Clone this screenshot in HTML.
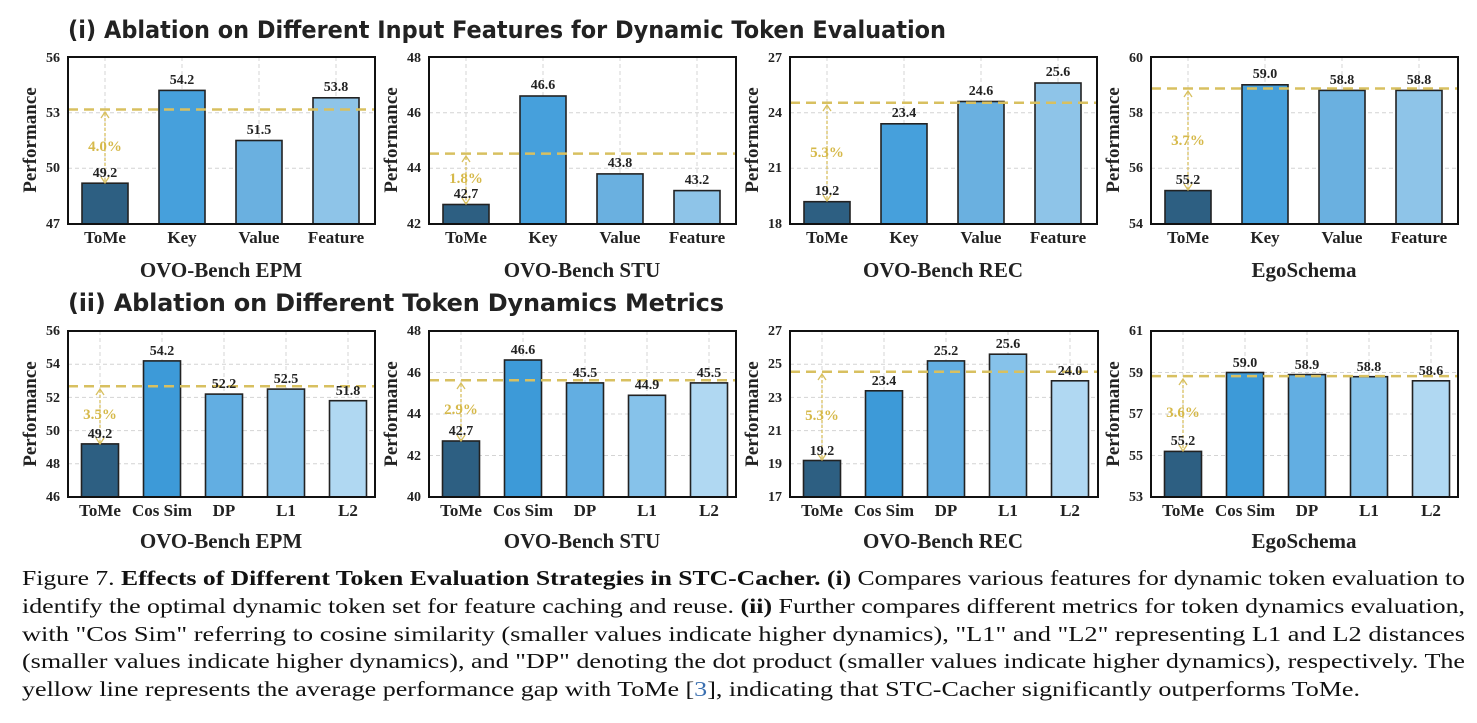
<!DOCTYPE html>
<html><head><meta charset="utf-8"><style>
body{margin:0;background:#fff;width:1477px;height:723px;overflow:hidden;position:relative}
svg{position:absolute;left:0;top:0}
.cap{font:21px "Liberation Serif",serif;fill:#111}
.tk{font:bold 14px "Liberation Serif",serif;fill:#222;text-anchor:end}
.xl{font:bold 17px "Liberation Serif",serif;fill:#222;text-anchor:middle}
.st{font:bold 21px "Liberation Serif",serif;fill:#222;text-anchor:middle}
.vl{font:bold 14px "Liberation Serif",serif;fill:#222;text-anchor:middle}
.pc{font:bold 15px "Liberation Serif",serif;fill:#d6b94a;text-anchor:middle}
.yl{font:bold 19px "Liberation Serif",serif;fill:#222;text-anchor:middle}
.g{stroke:#d4d4d4;stroke-width:1;stroke-dasharray:4 3}
.b{stroke:#222;stroke-width:1.6}
.av{stroke:#d8c060;stroke-width:2.5;stroke-dasharray:10 6}
.ar{stroke:#d8c060;stroke-width:1.3;stroke-dasharray:3 2;fill:none}
.ah{stroke:#d8c060;stroke-width:1.3;fill:none}
.fr{fill:none;stroke:#111;stroke-width:2}
</style></head><body>
<svg width="1477" height="723" viewBox="0 0 1477 723">
<text x="68" y="38" font-family="DejaVu Sans" font-weight="bold" font-size="24" fill="#222" textLength="878" lengthAdjust="spacingAndGlyphs">(i) Ablation on Different Input Features for Dynamic Token Evaluation</text>
<text x="68" y="311" font-family="DejaVu Sans" font-weight="bold" font-size="24" fill="#222" textLength="656" lengthAdjust="spacing">(ii) Ablation on Different Token Dynamics Metrics</text>

<g transform="translate(68,0)">
<line class="g" x1="0" x2="307" y1="168.3" y2="168.3"/><line class="g" x1="0" x2="307" y1="112.7" y2="112.7"/>
<line class="g" x1="37" x2="37" y1="57" y2="224"/><line class="g" x1="114" x2="114" y1="57" y2="224"/><line class="g" x1="191" x2="191" y1="57" y2="224"/><line class="g" x1="268" x2="268" y1="57" y2="224"/>
<rect class="b" x="14" y="183.2" width="46" height="40.8" fill="#2d5f82"/>
<rect class="b" x="91" y="90.4" width="46" height="133.6" fill="#46a0dc"/>
<rect class="b" x="168" y="140.5" width="46" height="83.5" fill="#6ab0e0"/>
<rect class="b" x="245" y="97.8" width="46" height="126.2" fill="#8ec4e8"/>
<line class="av" x1="0" x2="307" y1="109.5" y2="109.5"/>
<line class="ar" x1="37" x2="37" y1="113" y2="182"/><path class="ah" d="M33,118 L37,112 L41,118 M33,177 L37,183 L41,177"/>
<text class="pc" x="37" y="151">4.0%</text>
<text class="vl" x="37" y="177">49.2</text><text class="vl" x="114" y="84">54.2</text><text class="vl" x="191" y="134">51.5</text><text class="vl" x="268" y="91">53.8</text>
<rect class="fr" x="0" y="57" width="307" height="167"/>
<text class="tk" x="-8" y="228">47</text><text class="tk" x="-8" y="172">50</text><text class="tk" x="-8" y="117">53</text><text class="tk" x="-8" y="62">56</text>
<text class="yl" transform="translate(-32,140) rotate(-90)">Performance</text>
<text class="xl" x="37" y="243">ToMe</text><text class="xl" x="114" y="243">Key</text><text class="xl" x="191" y="243">Value</text><text class="xl" x="268" y="243">Feature</text>
<text class="st" x="153" y="277">OVO-Bench EPM</text>
</g>

<g transform="translate(429,0)">
<line class="g" x1="0" x2="307" y1="168.3" y2="168.3"/><line class="g" x1="0" x2="307" y1="112.7" y2="112.7"/>
<line class="g" x1="37" x2="37" y1="57" y2="224"/><line class="g" x1="114" x2="114" y1="57" y2="224"/><line class="g" x1="191" x2="191" y1="57" y2="224"/><line class="g" x1="268" x2="268" y1="57" y2="224"/>
<rect class="b" x="14" y="204.5" width="46" height="19.5" fill="#2d5f82"/>
<rect class="b" x="91" y="96" width="46" height="128" fill="#46a0dc"/>
<rect class="b" x="168" y="173.9" width="46" height="50.1" fill="#6ab0e0"/>
<rect class="b" x="245" y="190.6" width="46" height="33.4" fill="#8ec4e8"/>
<line class="av" x1="0" x2="307" y1="153.6" y2="153.6"/>
<line class="ar" x1="37" x2="37" y1="157" y2="203"/><path class="ah" d="M33,162 L37,156 L41,162 M33,198 L37,204 L41,198"/>
<text class="pc" x="37" y="183">1.8%</text>
<text class="vl" x="37" y="198">42.7</text><text class="vl" x="114" y="89">46.6</text><text class="vl" x="191" y="167">43.8</text><text class="vl" x="268" y="184">43.2</text>
<rect class="fr" x="0" y="57" width="307" height="167"/>
<text class="tk" x="-8" y="228">42</text><text class="tk" x="-8" y="172">44</text><text class="tk" x="-8" y="117">46</text><text class="tk" x="-8" y="62">48</text>
<text class="yl" transform="translate(-32,140) rotate(-90)">Performance</text>
<text class="xl" x="37" y="243">ToMe</text><text class="xl" x="114" y="243">Key</text><text class="xl" x="191" y="243">Value</text><text class="xl" x="268" y="243">Feature</text>
<text class="st" x="153" y="277">OVO-Bench STU</text>
</g>

<g transform="translate(790,0)">
<line class="g" x1="0" x2="307" y1="168.3" y2="168.3"/><line class="g" x1="0" x2="307" y1="112.7" y2="112.7"/>
<line class="g" x1="37" x2="37" y1="57" y2="224"/><line class="g" x1="114" x2="114" y1="57" y2="224"/><line class="g" x1="191" x2="191" y1="57" y2="224"/><line class="g" x1="268" x2="268" y1="57" y2="224"/>
<rect class="b" x="14" y="201.7" width="46" height="22.3" fill="#2d5f82"/>
<rect class="b" x="91" y="123.8" width="46" height="100.2" fill="#46a0dc"/>
<rect class="b" x="168" y="101.5" width="46" height="122.5" fill="#6ab0e0"/>
<rect class="b" x="245" y="83" width="46" height="141" fill="#8ec4e8"/>
<line class="av" x1="0" x2="307" y1="102.8" y2="102.8"/>
<line class="ar" x1="37" x2="37" y1="106" y2="200"/><path class="ah" d="M33,111 L37,105 L41,111 M33,195 L37,201 L41,195"/>
<text class="pc" x="37" y="157">5.3%</text>
<text class="vl" x="37" y="195">19.2</text><text class="vl" x="114" y="117">23.4</text><text class="vl" x="191" y="95">24.6</text><text class="vl" x="268" y="76">25.6</text>
<rect class="fr" x="0" y="57" width="307" height="167"/>
<text class="tk" x="-8" y="228">18</text><text class="tk" x="-8" y="172">21</text><text class="tk" x="-8" y="117">24</text><text class="tk" x="-8" y="62">27</text>
<text class="yl" transform="translate(-32,140) rotate(-90)">Performance</text>
<text class="xl" x="37" y="243">ToMe</text><text class="xl" x="114" y="243">Key</text><text class="xl" x="191" y="243">Value</text><text class="xl" x="268" y="243">Feature</text>
<text class="st" x="153" y="277">OVO-Bench REC</text>
</g>

<g transform="translate(1151,0)">
<line class="g" x1="0" x2="307" y1="168.3" y2="168.3"/><line class="g" x1="0" x2="307" y1="112.7" y2="112.7"/>
<line class="g" x1="37" x2="37" y1="57" y2="224"/><line class="g" x1="114" x2="114" y1="57" y2="224"/><line class="g" x1="191" x2="191" y1="57" y2="224"/><line class="g" x1="268" x2="268" y1="57" y2="224"/>
<rect class="b" x="14" y="190.6" width="46" height="33.4" fill="#2d5f82"/>
<rect class="b" x="91" y="84.8" width="46" height="139.2" fill="#46a0dc"/>
<rect class="b" x="168" y="90.4" width="46" height="133.6" fill="#6ab0e0"/>
<rect class="b" x="245" y="90.4" width="46" height="133.6" fill="#8ec4e8"/>
<line class="av" x1="0" x2="307" y1="88.5" y2="88.5"/>
<line class="ar" x1="37" x2="37" y1="92" y2="189"/><path class="ah" d="M33,97 L37,91 L41,97 M33,184 L37,190 L41,184"/>
<text class="pc" x="37" y="145">3.7%</text>
<text class="vl" x="37" y="184">55.2</text><text class="vl" x="114" y="78">59.0</text><text class="vl" x="191" y="84">58.8</text><text class="vl" x="268" y="84">58.8</text>
<rect class="fr" x="0" y="57" width="307" height="167"/>
<text class="tk" x="-8" y="228">54</text><text class="tk" x="-8" y="172">56</text><text class="tk" x="-8" y="117">58</text><text class="tk" x="-8" y="62">60</text>
<text class="yl" transform="translate(-32,140) rotate(-90)">Performance</text>
<text class="xl" x="37" y="243">ToMe</text><text class="xl" x="114" y="243">Key</text><text class="xl" x="191" y="243">Value</text><text class="xl" x="268" y="243">Feature</text>
<text class="st" x="153" y="277">EgoSchema</text>
</g>

<g transform="translate(68,0)">
<line class="g" x1="0" x2="307" y1="463.8" y2="463.8"/><line class="g" x1="0" x2="307" y1="430.6" y2="430.6"/><line class="g" x1="0" x2="307" y1="397.4" y2="397.4"/><line class="g" x1="0" x2="307" y1="364.2" y2="364.2"/>
<line class="g" x1="32" x2="32" y1="331" y2="497"/><line class="g" x1="94" x2="94" y1="331" y2="497"/><line class="g" x1="156" x2="156" y1="331" y2="497"/><line class="g" x1="218" x2="218" y1="331" y2="497"/><line class="g" x1="280" x2="280" y1="331" y2="497"/>
<rect class="b" x="13.5" y="443.9" width="37" height="53.1" fill="#2d5f82"/>
<rect class="b" x="75.5" y="360.9" width="37" height="136.1" fill="#3d9ad8"/>
<rect class="b" x="137.5" y="394.1" width="37" height="102.9" fill="#62aee2"/>
<rect class="b" x="199.5" y="389.1" width="37" height="107.9" fill="#86c2ea"/>
<rect class="b" x="261.5" y="400.7" width="37" height="96.3" fill="#b0d8f2"/>
<line class="av" x1="0" x2="307" y1="386.2" y2="386.2"/>
<line class="ar" x1="32" x2="32" y1="390" y2="443"/><path class="ah" d="M28,395 L32,389 L36,395 M28,438 L32,444 L36,438"/>
<text class="pc" x="32" y="419">3.5%</text>
<text class="vl" x="32" y="438">49.2</text><text class="vl" x="94" y="355">54.2</text><text class="vl" x="156" y="388">52.2</text><text class="vl" x="218" y="383">52.5</text><text class="vl" x="280" y="395">51.8</text>
<rect class="fr" x="0" y="331" width="307" height="166"/>
<text class="tk" x="-8" y="501">46</text><text class="tk" x="-8" y="468">48</text><text class="tk" x="-8" y="435">50</text><text class="tk" x="-8" y="402">52</text><text class="tk" x="-8" y="368">54</text><text class="tk" x="-8" y="335">56</text>
<text class="yl" transform="translate(-32,414) rotate(-90)">Performance</text>
<text class="xl" x="32" y="516">ToMe</text><text class="xl" x="94" y="516">Cos Sim</text><text class="xl" x="156" y="516">DP</text><text class="xl" x="218" y="516">L1</text><text class="xl" x="280" y="516">L2</text>
<text class="st" x="153" y="548">OVO-Bench EPM</text>
</g>

<g transform="translate(429,0)">
<line class="g" x1="0" x2="307" y1="455.5" y2="455.5"/><line class="g" x1="0" x2="307" y1="414" y2="414"/><line class="g" x1="0" x2="307" y1="372.5" y2="372.5"/>
<line class="g" x1="32" x2="32" y1="331" y2="497"/><line class="g" x1="94" x2="94" y1="331" y2="497"/><line class="g" x1="156" x2="156" y1="331" y2="497"/><line class="g" x1="218" x2="218" y1="331" y2="497"/><line class="g" x1="280" x2="280" y1="331" y2="497"/>
<rect class="b" x="13.5" y="441" width="37" height="56" fill="#2d5f82"/>
<rect class="b" x="75.5" y="360" width="37" height="137" fill="#3d9ad8"/>
<rect class="b" x="137.5" y="382.9" width="37" height="114.1" fill="#62aee2"/>
<rect class="b" x="199.5" y="395.3" width="37" height="101.7" fill="#86c2ea"/>
<rect class="b" x="261.5" y="382.9" width="37" height="114.1" fill="#b0d8f2"/>
<line class="av" x1="0" x2="307" y1="380.3" y2="380.3"/>
<line class="ar" x1="32" x2="32" y1="384" y2="440"/><path class="ah" d="M28,389 L32,383 L36,389 M28,435 L32,441 L36,435"/>
<text class="pc" x="32" y="414">2.9%</text>
<text class="vl" x="32" y="435">42.7</text><text class="vl" x="94" y="354">46.6</text><text class="vl" x="156" y="377">45.5</text><text class="vl" x="218" y="389">44.9</text><text class="vl" x="280" y="377">45.5</text>
<rect class="fr" x="0" y="331" width="307" height="166"/>
<text class="tk" x="-8" y="501">40</text><text class="tk" x="-8" y="460">42</text><text class="tk" x="-8" y="418">44</text><text class="tk" x="-8" y="377">46</text><text class="tk" x="-8" y="335">48</text>
<text class="yl" transform="translate(-32,414) rotate(-90)">Performance</text>
<text class="xl" x="32" y="516">ToMe</text><text class="xl" x="94" y="516">Cos Sim</text><text class="xl" x="156" y="516">DP</text><text class="xl" x="218" y="516">L1</text><text class="xl" x="280" y="516">L2</text>
<text class="st" x="153" y="548">OVO-Bench STU</text>
</g>

<g transform="translate(790,0)">
<line class="g" x1="0" x2="308" y1="463.8" y2="463.8"/><line class="g" x1="0" x2="308" y1="430.6" y2="430.6"/><line class="g" x1="0" x2="308" y1="397.4" y2="397.4"/><line class="g" x1="0" x2="308" y1="364.2" y2="364.2"/>
<line class="g" x1="32" x2="32" y1="331" y2="497"/><line class="g" x1="94" x2="94" y1="331" y2="497"/><line class="g" x1="156" x2="156" y1="331" y2="497"/><line class="g" x1="218" x2="218" y1="331" y2="497"/><line class="g" x1="280" x2="280" y1="331" y2="497"/>
<rect class="b" x="13.5" y="460.5" width="37" height="36.5" fill="#2d5f82"/>
<rect class="b" x="75.5" y="390.8" width="37" height="106.2" fill="#3d9ad8"/>
<rect class="b" x="137.5" y="360.9" width="37" height="136.1" fill="#62aee2"/>
<rect class="b" x="199.5" y="354.2" width="37" height="142.8" fill="#86c2ea"/>
<rect class="b" x="261.5" y="380.8" width="37" height="116.2" fill="#b0d8f2"/>
<line class="av" x1="0" x2="308" y1="371.7" y2="371.7"/>
<line class="ar" x1="32" x2="32" y1="375" y2="459"/><path class="ah" d="M28,380 L32,374 L36,380 M28,454 L32,460 L36,454"/>
<text class="pc" x="32" y="420">5.3%</text>
<text class="vl" x="32" y="455">19.2</text><text class="vl" x="94" y="385">23.4</text><text class="vl" x="156" y="355">25.2</text><text class="vl" x="218" y="348">25.6</text><text class="vl" x="280" y="375">24.0</text>
<rect class="fr" x="0" y="331" width="308" height="166"/>
<text class="tk" x="-8" y="501">17</text><text class="tk" x="-8" y="468">19</text><text class="tk" x="-8" y="435">21</text><text class="tk" x="-8" y="402">23</text><text class="tk" x="-8" y="368">25</text><text class="tk" x="-8" y="335">27</text>
<text class="yl" transform="translate(-32,414) rotate(-90)">Performance</text>
<text class="xl" x="32" y="516">ToMe</text><text class="xl" x="94" y="516">Cos Sim</text><text class="xl" x="156" y="516">DP</text><text class="xl" x="218" y="516">L1</text><text class="xl" x="280" y="516">L2</text>
<text class="st" x="153" y="548">OVO-Bench REC</text>
</g>

<g transform="translate(1151,0)">
<line class="g" x1="0" x2="307" y1="455.5" y2="455.5"/><line class="g" x1="0" x2="307" y1="414" y2="414"/><line class="g" x1="0" x2="307" y1="372.5" y2="372.5"/>
<line class="g" x1="32" x2="32" y1="331" y2="497"/><line class="g" x1="94" x2="94" y1="331" y2="497"/><line class="g" x1="156" x2="156" y1="331" y2="497"/><line class="g" x1="218" x2="218" y1="331" y2="497"/><line class="g" x1="280" x2="280" y1="331" y2="497"/>
<rect class="b" x="13.5" y="451.4" width="37" height="45.6" fill="#2d5f82"/>
<rect class="b" x="75.5" y="372.5" width="37" height="124.5" fill="#3d9ad8"/>
<rect class="b" x="137.5" y="374.6" width="37" height="122.4" fill="#62aee2"/>
<rect class="b" x="199.5" y="376.7" width="37" height="120.3" fill="#86c2ea"/>
<rect class="b" x="261.5" y="380.8" width="37" height="116.2" fill="#b0d8f2"/>
<line class="av" x1="0" x2="307" y1="376.1" y2="376.1"/>
<line class="ar" x1="32" x2="32" y1="380" y2="450"/><path class="ah" d="M28,385 L32,379 L36,385 M28,445 L32,451 L36,445"/>
<text class="pc" x="32" y="417">3.6%</text>
<text class="vl" x="32" y="445">55.2</text><text class="vl" x="94" y="367">59.0</text><text class="vl" x="156" y="369">58.9</text><text class="vl" x="218" y="371">58.8</text><text class="vl" x="280" y="375">58.6</text>
<rect class="fr" x="0" y="331" width="307" height="166"/>
<text class="tk" x="-8" y="501">53</text><text class="tk" x="-8" y="460">55</text><text class="tk" x="-8" y="418">57</text><text class="tk" x="-8" y="377">59</text><text class="tk" x="-8" y="335">61</text>
<text class="yl" transform="translate(-32,414) rotate(-90)">Performance</text>
<text class="xl" x="32" y="516">ToMe</text><text class="xl" x="94" y="516">Cos Sim</text><text class="xl" x="156" y="516">DP</text><text class="xl" x="218" y="516">L1</text><text class="xl" x="280" y="516">L2</text>
<text class="st" x="153" y="548">EgoSchema</text>
</g>

<text class="cap" x="22" y="585" textLength="1443" lengthAdjust="spacingAndGlyphs">Figure 7. <tspan font-weight="bold">Effects of Different Token Evaluation Strategies in STC-Cacher.</tspan> <tspan font-weight="bold">(i)</tspan> Compares various features for dynamic token evaluation to</text>
<text class="cap" x="22" y="613" textLength="1443" lengthAdjust="spacingAndGlyphs">identify the optimal dynamic token set for feature caching and reuse. <tspan font-weight="bold">(ii)</tspan> Further compares different metrics for token dynamics evaluation,</text>
<text class="cap" x="22" y="641" textLength="1443" lengthAdjust="spacingAndGlyphs">with "Cos Sim" referring to cosine similarity (smaller values indicate higher dynamics), "L1" and "L2" representing L1 and L2 distances</text>
<text class="cap" x="22" y="668" textLength="1443" lengthAdjust="spacingAndGlyphs">(smaller values indicate higher dynamics), and "DP" denoting the dot product (smaller values indicate higher dynamics), respectively. The</text>
<text class="cap" x="22" y="696" textLength="1338" lengthAdjust="spacingAndGlyphs">yellow line represents the average performance gap with ToMe [<tspan fill="#3a6fb0">3</tspan>], indicating that STC-Cacher significantly outperforms ToMe.</text>
</svg>
</body></html>
